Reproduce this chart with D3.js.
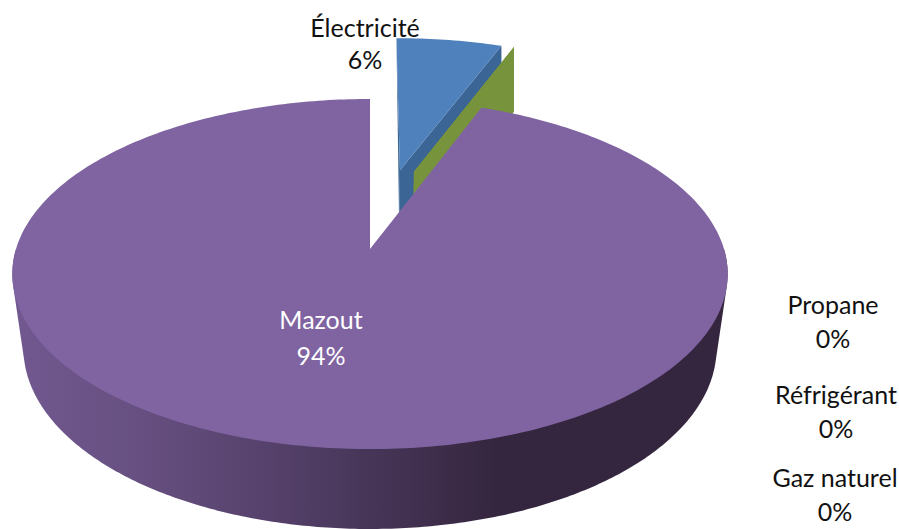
<!DOCTYPE html>
<html>
<head>
<meta charset="utf-8">
<script src="https://cdn.jsdelivr.net/npm/d3@7"></script>
<style>
html,body{margin:0;padding:0;background:#fff}
svg{display:block}
text{font-family:Lato,"Open Sans",sans-serif;font-size:25px;text-anchor:middle}
</style>
</head>
<body>
<svg id="c" width="899" height="529"></svg>
<script>
const categories = ["Électricité", "Propane", "Réfrigérant", "Gaz naturel", "Mazout"];
const values = [5.8, 0, 0, 0, 94.2];
const topColors = ["#4f81bd", "#9bbb59", "#9bbb59", "#9bbb59", "#8064a2"];
const faceColors = ["#3b6595", "#77933c", "#77933c", "#77933c", "#8064a2"];
const sideStops = [[0, "#71588f"], [0.18, "#664f80"], [0.42, "#4f3c63"], [0.68, "#35263f"], [1, "#35263f"]];
const labelPos = [[365, [37, 69]], [833, [314, 348]], [836, [404, 438]], [835, [487, 521]], [321, [329, 365]]];
const labelFill = ["#111", "#111", "#111", "#111", "#fff"];

// Perspective maps of the pie's unit disc: top plane and bottom plane
const plane = (k, a, b, c) => (u, v) => {
  const d = 1 + c * v;
  return [370 + k * u / d, (a * v + b) / d];
};
const topP = plane(354, -135.9, 249, 1 / 7);
const botP = plane(344, -138.7, 326.8, 0.12);

const explode = 0.5;
const zeroDir = 15.4 * Math.PI / 180;
const arcs = d3.pie().sort(null).value(d => d)(values);
const total = d3.sum(values);
const pct = v => Math.round(v / total * 100) + "%";

const svg = d3.select("#c");
const defs = svg.append("defs");
const grad = defs.append("linearGradient").attr("id", "side")
  .attr("gradientUnits", "userSpaceOnUse").attr("x1", 20).attr("x2", 720).attr("y1", 0).attr("y2", 0);
sideStops.forEach(s => grad.append("stop").attr("offset", s[0]).attr("stop-color", s[1]));

const line = d3.line().curve(d3.curveLinearClosed);
const poly = (pts, fill) => svg.append("path").attr("d", line(pts)).attr("fill", fill);
const rim = (P, ox, oy, a0, a1) => {
  const n = Math.max(2, Math.ceil(Math.abs(a1 - a0) * 60));
  return d3.range(n + 1).map(i => {
    const t = a0 + (a1 - a0) * i / n;
    return P(ox + Math.sin(t), oy + Math.cos(t));
  });
};

// Électricité: exploded slice
const e = arcs[0];
const mid = (e.startAngle + e.endAngle) / 2;
const ex = explode * Math.sin(mid), ey = explode * Math.cos(mid);
poly([topP(ex, ey), topP(ex + Math.sin(e.endAngle), ey + Math.cos(e.endAngle)),
      botP(ex + Math.sin(e.endAngle), ey + Math.cos(e.endAngle)), botP(ex, ey)], faceColors[0]);
poly([topP(ex, ey), topP(ex, ey + 1), botP(ex, ey)], faceColors[0]);
poly([topP(ex, ey), ...rim(topP, ex, ey, e.startAngle, e.endAngle)], topColors[0]);

// Zero-valued slices show only their cut face
arcs.slice(1, 4).forEach((z, i) => {
  const zx = explode * Math.sin(zeroDir), zy = explode * Math.cos(zeroDir);
  const a = z.startAngle;
  poly([topP(zx, zy), topP(zx + Math.sin(a), zy + Math.cos(a)),
        botP(zx + Math.sin(a), zy + Math.cos(a)), botP(zx, zy)], faceColors[i + 1]);
});

// Mazout: side wall, then top
const m = arcs[4];
const frontT = d3.range(0, 1.0001, 0.002).map(f => m.startAngle + (m.endAngle - m.startAngle) * f)
  .filter(t => Math.cos(t) <= 0);
const wall = d3.polygonHull(frontT.flatMap(t => [topP(Math.sin(t), Math.cos(t)), botP(Math.sin(t), Math.cos(t))]));
poly(wall, "url(#side)");
poly([topP(0, 0), ...rim(topP, 0, 0, m.startAngle, m.endAngle)], topColors[4]);

// Labels
categories.forEach((c, i) => {
  const t = svg.append("text").attr("fill", labelFill[i]);
  t.append("tspan").attr("x", labelPos[i][0]).attr("y", labelPos[i][1][0]).text(c);
  t.append("tspan").attr("x", labelPos[i][0]).attr("y", labelPos[i][1][1]).text(pct(values[i]));
});
</script>
</body>
</html>
